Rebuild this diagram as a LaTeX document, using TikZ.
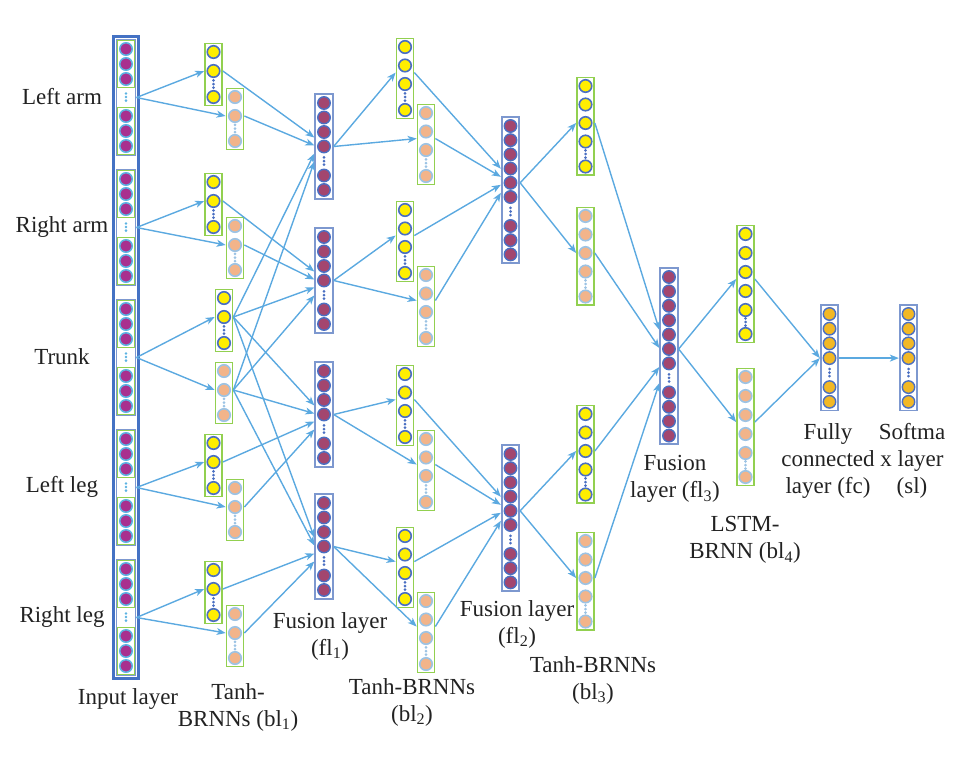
\documentclass[tikz,border=0pt]{standalone}
\usepackage{fontspec}
\setmainfont{Liberation Serif}
\usetikzlibrary{calc}
\usetikzlibrary{arrows.meta}
\usetikzlibrary{fit}
\usepackage{xcolor}

\definecolor{arrowblue}{HTML}{5BA9E0}
\definecolor{boxgreen}{HTML}{92D050}
\definecolor{yelfill}{HTML}{FFEE00}
\definecolor{ringblue}{HTML}{4A6FC2}
\definecolor{orgfill}{HTML}{F2B48A}
\definecolor{ringlight}{HTML}{9CC3E4}
\definecolor{fusfill}{HTML}{A3466F}
\definecolor{fusbox}{HTML}{7D98CF}
\definecolor{goldfill}{HTML}{F2B825}
\definecolor{inpfill}{HTML}{A8318F}
\definecolor{inpring}{HTML}{5CB3E2}
\definecolor{inpframe}{HTML}{4472C4}
\definecolor{txt}{HTML}{222222}

\tikzset{
  ycirc/.style={circle, draw=ringblue, fill=yelfill, line width=1.6pt, minimum size=12.5pt, inner sep=0},
  ocirc/.style={circle, draw=ringlight, fill=orgfill, line width=1.6pt, minimum size=12.5pt, inner sep=0},
  fcirc/.style={circle, draw=ringblue, fill=fusfill, line width=1.4pt, minimum size=12.5pt, inner sep=0},
  gcirc/.style={circle, draw=ringblue, fill=goldfill, line width=1.4pt, minimum size=12.5pt, inner sep=0},
  icirc/.style={circle, draw=inpring, fill=inpfill, line width=1.5pt, minimum size=12.5pt, inner sep=0},
  ybox/.style={draw=boxgreen, line width=1.6pt, inner sep=1.5pt},
  obox/.style={draw=boxgreen, line width=1.6pt, inner sep=1.5pt},
  fbox/.style={draw=fusbox, line width=1.8pt, inner sep=1.8pt},
  gbox/.style={draw=fusbox, line width=1.8pt, inner sep=1.8pt},
  ibox/.style={draw=boxgreen, line width=1.4pt, inner sep=1.5pt},
  isub/.style={draw=fusbox, line width=1.3pt, inner sep=0.6pt},
  iframe/.style={draw=inpframe, line width=2.4pt, inner sep=2pt},
  ydot/.style={fill=ringblue},
  odot/.style={fill=ringlight},
  fdot/.style={fill=ringblue},
  gdot/.style={fill=ringblue},
  idot/.style={fill=inpring},
  conn/.style={-{Stealth[length=9pt, width=7pt, inset=2.5pt]}, draw=arrowblue, line width=1.4pt},
  lbl/.style={font=\fontsize{23}{27}\selectfont, text=txt, align=center, inner sep=0}
}

% name, x, y of first circle, circles before dots, circles after dots, spacing, gap, kind
\newcommand{\layercol}[8]{%
  \foreach \i in {1,...,#4}
    {\node[#8circ] (#1-\i) at (#2,{#3+(\i-1)*#6}) {};}
  \foreach \q in {-3.6,0,3.6}
    {\fill[#8dot] (#2,{#3+(#4-1)*#6+#7/2+\q}) circle (1.5pt);}
  \foreach \j in {1,...,#5} {
    \pgfmathtruncatemacro\cidx{#4+\j}
    \node[#8circ] (#1-\cidx) at (#2,{#3+(#4-1)*#6+#7+(\j-1)*#6}) {};
  }
  \pgfmathtruncatemacro\cidx{#4+#5}
  \node[#8box, fit=(#1-1)(#1-\cidx)] (#1) {};
}

\begin{document}
\begin{tikzpicture}[x=1pt, y=-1pt]
\useasboundingbox (0,0) rectangle (966,756);

\foreach \k/\yc in {1/97,2/227,3/357,4/487,5/617} {
  \foreach \i in {1,...,6} {
    \pgfmathsetmacro\cy{\i<4 ? \yc-63+15*\i : \yc-41+15*\i}
    \node[icirc] (in\k-\i) at (126,\cy) {};
  }
  \node[ibox, fit=(in\k-1)(in\k-3)] (in\k-top) {};
  \node[ibox, fit=(in\k-4)(in\k-6)] (in\k-bot) {};
  \foreach \q in {-3.6,0,3.6}
    {\fill[idot] (126,{\yc+\q}) circle (1.4pt);}
  \node[isub, fit=(in\k-top)(in\k-bot)] (in\k) {};
}
\node[iframe, fit=(in1)(in5)] (input) {};

\foreach \k/\xa/\ya/\xb/\yb in {1/213.5/52/235/97, 2/213.5/182/235/226, 3/224/298/224/371, 4/213.5/443/235/488, 5/213.5/570/235/614} {
  \layercol{b1y\k}{\xa}{\ya}{2}{1}{19}{26}{y}
  \layercol{b1o\k}{\xb}{\yb}{2}{1}{19}{25}{o}
}
\foreach \r/\yy in {a/103,b/237,c/371,d/503}
  {\layercol{f1\r}{324}{\yy}{4}{2}{14.5}{29}{f}}
\foreach \k/\ya/\yb in {1/47/113, 2/210/275, 3/374/439, 4/536/601} {
  \layercol{b2y\k}{405}{\ya}{3}{1}{18.5}{26}{y}
  \layercol{b2o\k}{426}{\yb}{3}{1}{18.5}{26}{o}
}
\layercol{f2a}{510.5}{126}{6}{3}{14.2}{29}{f}
\layercol{f2b}{510.5}{454}{6}{3}{14.2}{29}{f}
\foreach \k/\ya/\yb in {1/86/216, 2/414/541} {
  \layercol{b3y\k}{585.5}{\ya}{4}{1}{18.5}{25}{y}
  \layercol{b3o\k}{585.5}{\yb}{4}{1}{18.5}{25}{o}
}
\layercol{f3}{669}{277}{7}{4}{14.4}{29}{f}
\layercol{b4y}{745.5}{234}{5}{1}{19}{24}{y}
\layercol{b4o}{745.5}{377}{5}{1}{19}{24}{o}
\layercol{fc}{829.5}{314}{4}{2}{14.7}{29}{g}
\layercol{sl}{908.5}{314}{4}{2}{14.7}{29}{g}

\foreach \k in {1,...,5} {
  \draw[conn] (in\k.east) -- (b1y\k.west |- b1y\k-2);
  \draw[conn] (in\k.east) -- (b1o\k.west |- b1o\k-2);
}
\foreach \s/\r/\o in {1/a/-9,3/a/7,2/b/-9,3/b/7,3/c/-9,4/c/7,3/d/-9,5/d/7} {
  \draw[conn] (b1y\s.east |- b1y\s-2) -- ($(f1\r.west |- f1\r-4)+(0,\o)$);
  \draw[conn] (b1o\s.east |- b1o\s-2) -- ($(f1\r.west |- f1\r-4)+(0,\o+8)$);
}
\foreach \r/\k in {a/1,b/2,c/3,d/4} {
  \draw[conn] (f1\r.east |- f1\r-4) -- (b2y\k.west |- b2y\k-2.south);
  \draw[conn] (f1\r.east |- f1\r-4) -- (b2o\k.west |- b2o\k-2.south);
}
\foreach \k/\r/\o in {1/a/-14,2/a/2,3/b/-14,4/b/2} {
  \draw[conn] (b2y\k.east |- b2y\k-2.south) -- ($(f2\r.west |- f2\r-5)+(0,\o)$);
  \draw[conn] (b2o\k.east |- b2o\k-2.south) -- ($(f2\r.west |- f2\r-5)+(0,\o+8)$);
}
\foreach \r/\k in {a/1,b/2} {
  \draw[conn] (f2\r.east |- f2\r-5) -- (b3y\k.west |- b3y\k-3);
  \draw[conn] (f2\r.east |- f2\r-5) -- (b3o\k.west |- b3o\k-3);
}
\foreach \n/\o in {b3y1/-19,b3o1/-1,b3y2/18,b3o2/34}
  {\draw[conn] (\n.east |- \n-3) -- ($(f3.west |- f3-6)+(0,\o)$);}
\draw[conn] (f3.east |- f3-6) -- (b4y.west |- b4y-3.south);
\draw[conn] (f3.east |- f3-6) -- (b4o.west |- b4o-3.south);
\draw[conn] (b4y.east |- b4y-3.south) -- (fc.west |- fc-4);
\draw[conn] (b4o.east |- b4o-3.south) -- (fc.west |- fc-4);
\draw[conn] (fc.east |- fc-4) -- (sl.west |- sl-4);

\node[lbl] (larm) at (62,97) {Left arm};
\node[lbl] (rarm) at (62,227) {Right arm};
\node[lbl] (trunk) at (62,357) {Trunk};
\node[lbl] (lleg) at (62,487) {Left leg};
\node[lbl] (rleg) at (62,617) {Right leg};
\node[lbl] (inlbl) at (128,699) {Input layer};
\node[lbl] (bl1lbl) at (238,707) {Tanh-\\BRNNs (bl\textsubscript{1})};
\node[lbl] (fl1lbl) at (330,636) {Fusion layer\\(fl\textsubscript{1})};
\node[lbl] (bl2lbl) at (412,702) {Tanh-BRNNs\\(bl\textsubscript{2})};
\node[lbl] (fl2lbl) at (517,624) {Fusion layer\\(fl\textsubscript{2})};
\node[lbl] (bl3lbl) at (593,680) {Tanh-BRNNs\\(bl\textsubscript{3})};
\node[lbl] (fl3lbl) at (675,479) {Fusion\\layer (fl\textsubscript{3})};
\node[lbl] (bl4lbl) at (745,540) {LSTM-\\BRNN (bl\textsubscript{4})};
\node[lbl] (fclbl) at (828,461) {Fully\\connected\\layer (fc)};
\node[lbl] (sllbl) at (912,461) {Softma\\x layer\\(sl)};
\end{tikzpicture}
\end{document}
